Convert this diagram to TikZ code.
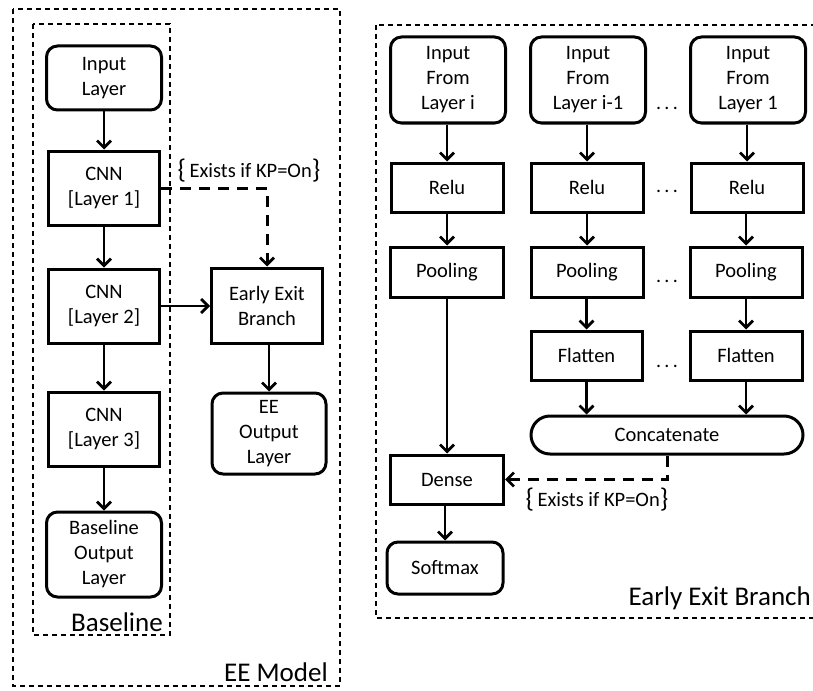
\documentclass[tikz,border=0pt]{standalone}
\usepackage{fontspec}
\setmainfont{Carlito}
\usetikzlibrary{arrows.meta}
\newcommand{\bigbr}[1]{{\fontsize{27}{27}\selectfont\raisebox{-1pt}{#1}}}
\begin{document}
\begin{tikzpicture}[x=1pt,y=-1pt,
  box/.style={draw, line width=3pt, inner sep=0pt, align=center,
    font=\fontsize{20.5}{25}\selectfont},
  rbox/.style={box, rounded corners=11pt},
  arr/.style={line width=2.7pt, -{Straight Barb[length=7pt,width=14pt,line width=2.7pt]}},
  darr/.style={arr, line width=3pt, dash pattern=on 11pt off 8pt},
  group/.style={draw, line width=1.3pt, dash pattern=on 5pt off 4pt},
  lbl/.style={inner sep=0pt, font=\fontsize{27}{32}\selectfont},
  note/.style={inner sep=0pt, font=\fontsize{20.5}{25}\selectfont},
  dots/.style={inner sep=0pt, font=\fontsize{20}{24}\selectfont}
]
\useasboundingbox (0,0) rectangle (813,690);
\clip (0,0) rectangle (813,690);

% groups
\draw[group] (13,9) rectangle (340,686);
\draw[group] (33,24) rectangle (170,635);
\draw[group] (376,25) rectangle (840,618);
\node[lbl, anchor=east] (lbase) at (163,622) {Baseline};
\node[lbl, anchor=east] (lee) at (328,672) {EE Model};
\node[lbl, anchor=east] (leeb) at (811,598) {Early Exit Branch};

% left part
\node[rbox, minimum width=115pt, minimum height=64pt] (inp) at (104,78) {Input\\Layer};
\node[box, minimum width=111pt, minimum height=74pt] (cnn1) at (104,188) {CNN\\{[Layer 1]}};
\node[box, minimum width=111pt, minimum height=74pt] (cnn2) at (104,306) {CNN\\{[Layer 2]}};
\node[box, minimum width=111pt, minimum height=74pt] (cnn3) at (104,429) {CNN\\{[Layer 3]}};
\node[rbox, minimum width=115pt, minimum height=85pt] (bout) at (104,554.5) {Baseline\\Output\\Layer};
\node[box, minimum width=111pt, minimum height=75pt] (eeb) at (267,305.5) {Early Exit\\Branch};
\node[rbox, minimum width=114pt, minimum height=81pt] (eeout) at (269,433.5) {EE\\Output\\Layer};
\node[note] (ex1) at (249,171) {\bigbr{\{}\,Exists if KP=On\bigbr{\}}};

\draw[arr] (inp) -- (cnn1);
\draw[arr] (cnn1) -- (cnn2);
\draw[arr] (cnn2) -- (cnn3);
\draw[arr] (cnn3) -- (bout);
\draw[arr] (cnn2.east) -- (cnn2.east -| eeb.west);
\draw[arr] (eeb.south -| eeout.north) -- (eeout.north);
\draw[darr] (cnn1.east) -| (eeb.north);

% right part
\node[rbox, minimum width=115pt, minimum height=86pt] (in1) at (448,80) {Input\\From\\Layer i};
\node[box, minimum width=112pt, minimum height=49pt] (re1) at (447,187.5) {Relu};
\node[box, minimum width=113pt, minimum height=50pt] (po1) at (447,272) {Pooling};
\node[box, minimum width=113pt, minimum height=49pt] (de) at (447,479.5) {Dense};
\node[rbox, minimum width=116pt, minimum height=52pt] (sm) at (445,568) {Softmax};

\node[rbox, minimum width=115pt, minimum height=86pt] (in2) at (588,80) {Input\\From\\Layer i-1};
\node[box, minimum width=112pt, minimum height=49pt] (re2) at (587,187.5) {Relu};
\node[box, minimum width=112pt, minimum height=50pt] (po2) at (587,272) {Pooling};
\node[box, minimum width=111pt, minimum height=49pt] (fl2) at (586.5,355.5) {Flatten};

\node[rbox, minimum width=115pt, minimum height=86pt] (in3) at (748,80) {Input\\From\\Layer 1};
\node[box, minimum width=112pt, minimum height=49pt] (re3) at (747,187.5) {Relu};
\node[box, minimum width=112pt, minimum height=50pt] (po3) at (746,272) {Pooling};
\node[box, minimum width=112pt, minimum height=49pt] (fl3) at (746,355.5) {Flatten};

\node[box, rounded corners=19pt, minimum width=272pt, minimum height=38pt] (cat) at (667,435) {Concatenate};

\node[dots] (d1) at (667,108) {.\,.\,.};
\node[dots] (d2) at (667,191) {.\,.\,.};
\node[dots] (d3) at (667,281) {.\,.\,.};
\node[dots] (d4) at (667,366) {.\,.\,.};

\node[note] (ex2) at (597,500) {\bigbr{\{}\,Exists if KP=On\bigbr{\}}};

\draw[arr] (in1.south -| re1.north) -- (re1.north);
\draw[arr] (re1) -- (po1);
\draw[arr] (po1) -- (de);
\draw[arr] (de.south -| sm.north) -- (sm.north);
\draw[arr] (in2.south -| re2.north) -- (re2.north);
\draw[arr] (re2) -- (po2);
\draw[arr] (po2.south -| fl2.north) -- (fl2.north);
\draw[arr] (in3.south -| re3.north) -- (re3.north);
\draw[arr] (re3.south -| po3.north) -- (po3.north);
\draw[arr] (po3) -- (fl3);
\draw[arr] (fl2.south) -- (fl2.south |- cat.north);
\draw[arr] (fl3.south) -- (fl3.south |- cat.north);
\coordinate (turn) at (cat.south |- de.east);
\draw[darr] (cat.south) -- (turn) -- (de.east);
\end{tikzpicture}
\end{document}
